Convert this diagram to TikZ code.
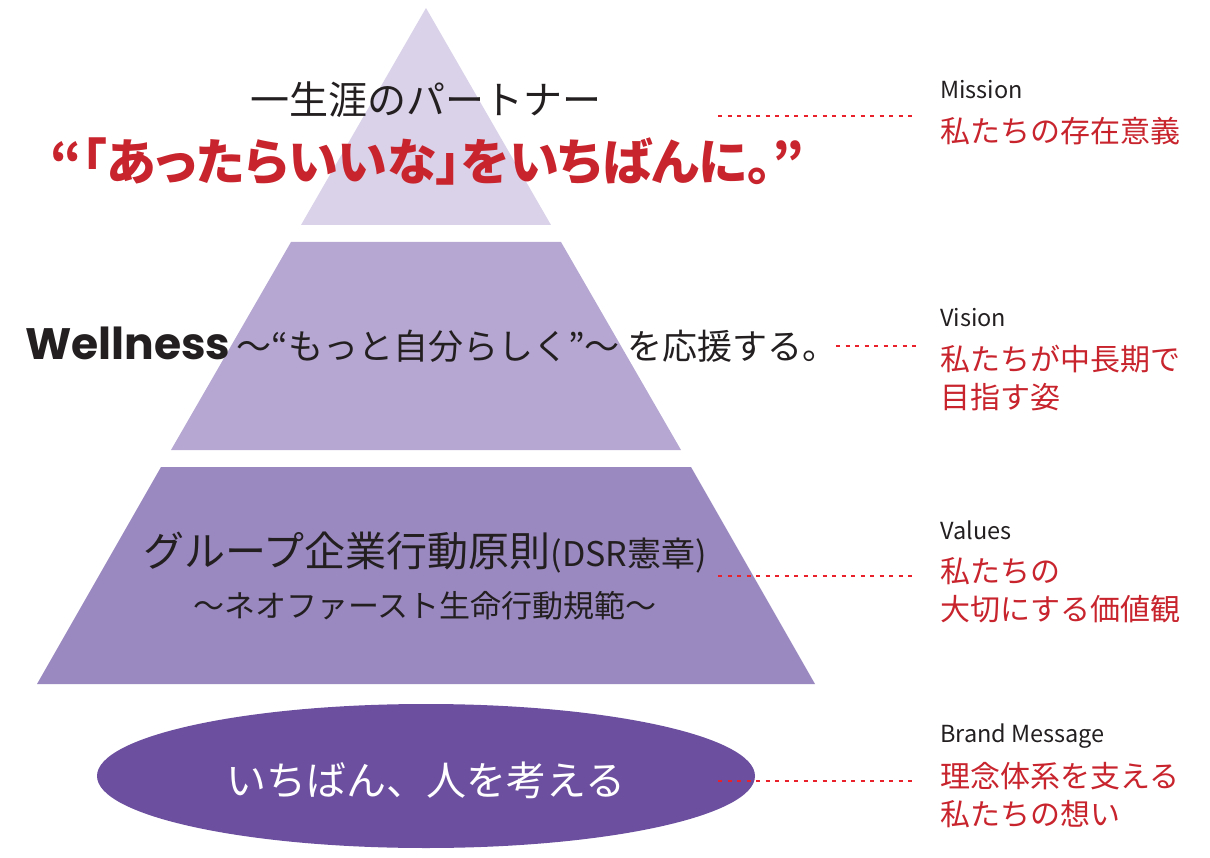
\documentclass[tikz,border=0pt]{standalone}
\usepackage{fontspec}
\setmainfont{Noto Sans CJK JP}
\newfontfamily\wellfont{Poppins}
\newfontfamily\paltfont[RawFeature=+palt]{Noto Sans CJK JP}
\usetikzlibrary{shapes.geometric}
\definecolor{tierA}{HTML}{D9D2E9}
\definecolor{tierB}{HTML}{B5A7D1}
\definecolor{tierC}{HTML}{9A89C0}
\definecolor{tierD}{HTML}{6C509F}
\definecolor{titlered}{HTML}{C8242D}
\definecolor{dotred}{HTML}{E8212B}
\definecolor{ink}{HTML}{231F20}
\tikzset{
  dotline/.style={dotred, line width=2.5pt, dash pattern=on 4pt off 5.5pt},
  engl/.style={anchor=west, inner sep=0pt, text=ink, font=\fontsize{23.5}{26}\selectfont},
  jpred/.style={anchor=north west, inner sep=0pt, text=titlered, align=left, font=\fontsize{30}{38}\selectfont},
  body/.style={inner sep=0pt, text=ink},
}
\begin{document}
\begin{tikzpicture}[x=1pt,y=-1pt]
\useasboundingbox (0,0) rectangle (1210,858);
% pyramid tiers
\fill[tierA] (426,8) -- (551,225) -- (301,225) -- cycle;
\fill[tierB] (291,242) -- (561,242) -- (681,450) -- (171,450) -- cycle;
\fill[tierC] (161,467) -- (691,467) -- (815,684) -- (37,684) -- cycle;
\node[ellipse, fill=tierD, minimum width=658pt, minimum height=144pt, inner sep=0pt] (base) at (426,776) {};

% pyramid texts
\node[body, font=\fontsize{39}{39}\selectfont] (mission) at (426,100) {一生涯のパートナー};
\node[body, text=titlered, font=\paltfont\fontsize{50}{50}\selectfont\bfseries] (missionb) at (427,162) {“「あったらいいな」をいちばんに。”};
\node[body, anchor=west] (vision) at (25,345) {{\wellfont\bfseries\fontsize{44}{44}\selectfont Wellness}\hspace{6pt}{\fontsize{35}{35}\selectfont ～“もっと自分らしく”～ を応援する。}};
\node[body, font=\fontsize{41}{41}\selectfont] (values) at (425,553) {グループ企業行動原則{\fontsize{34}{34}\selectfont (DSR憲章)}};
\node[body, font=\fontsize{31}{31}\selectfont] (valuesb) at (425,606) {～ネオファースト生命行動規範～};
\node[body, text=white, font=\fontsize{40}{40}\selectfont] (brand) at (426,780) {いちばん、人を考える};

% right labels
\node[engl] (lm) at (940,90) {Mission};
\node[jpred] (lmj) at (940,117) {私たちの存在意義};
\node[engl] (lv) at (940,318) {Vision};
\node[jpred] (lvj) at (940,345) {私たちが中長期で\\目指す姿};
\node[engl] (lva) at (940,530) {Values};
\node[jpred] (lvaj) at (940,557) {私たちの\\大切にする価値観};
\node[engl] (lb) at (940,736) {Brand Message};
\node[jpred] (lbj) at (940,762) {理念体系を支える\\私たちの想い};

% dotted leaders
\coordinate (d1a) at (718,116); \coordinate (d1b) at (916,116);
\coordinate (d2a) at (836,346); \coordinate (d2b) at (916,346);
\coordinate (d3a) at (718,576); \coordinate (d3b) at (916,576);
\coordinate (d4a) at (718,781); \coordinate (d4b) at (916,781);
\draw[dotline] (d1a) -- (d1b);
\draw[dotline] (d2a) -- (d2b);
\draw[dotline] (d3a) -- (d3b);
\draw[dotline] (d4a) -- (d4b);
\end{tikzpicture}
\end{document}
